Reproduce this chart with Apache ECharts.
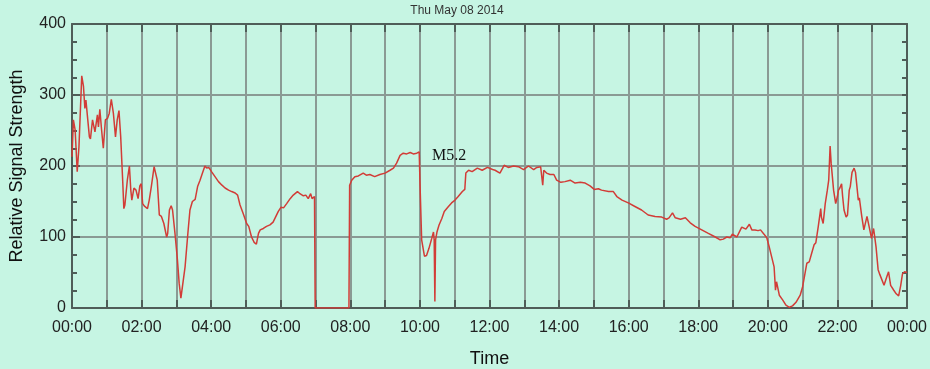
<!DOCTYPE html>
<html>
<head>
<meta charset="utf-8">
<script src="https://cdn.jsdelivr.net/npm/echarts@6/dist/echarts.min.js"></script>
<style>
html,body{margin:0;padding:0;background:#c6f5e3;}
#chart{width:930px;height:369px;}
</style>
</head>
<body>
<div id="chart"></div>
<script>
// Time of day in hours
var hours = [0.00,0.04,0.09,0.15,0.20,0.28,0.33,0.37,0.40,0.44,0.50,0.53,0.59,0.66,0.73,0.76,0.80,0.85,0.90,0.96,
1.02,1.07,1.13,1.19,1.25,1.30,1.35,1.40,1.46,1.49,1.52,1.59,1.65,1.69,1.72,1.78,1.84,1.90,1.95,1.99,
2.03,2.09,2.17,2.22,2.28,2.36,2.39,2.45,2.51,2.57,2.64,2.72,2.75,2.80,2.85,2.89,2.96,3.03,3.08,3.13,3.15,
3.25,3.33,3.39,3.46,3.54,3.61,3.68,3.75,3.82,3.87,3.93,4.01,4.11,4.21,4.31,4.40,4.50,4.59,4.69,4.76,4.83,4.92,
5.02,5.08,5.16,5.24,5.30,5.36,5.41,5.50,5.59,5.69,5.78,5.85,5.93,6.01,6.08,6.17,6.27,6.36,6.48,6.55,6.65,6.72,
6.79,6.86,6.90,6.97,6.99,7.96,7.98,8.04,8.13,8.23,8.37,8.46,8.56,8.70,8.85,9.00,9.14,9.24,9.33,9.43,9.52,9.62,
9.72,9.81,9.91,9.98,10.00,10.05,10.13,10.19,10.26,10.34,10.39,10.41,10.43,10.45,10.49,10.55,10.63,10.70,10.82,
10.91,11.01,11.10,11.22,11.29,11.32,11.40,11.50,11.65,11.79,11.94,12.09,12.16,12.30,12.42,12.54,12.69,12.83,
12.98,13.12,13.27,13.36,13.47,13.53,13.56,13.64,13.74,13.85,13.93,14.05,14.17,14.32,14.46,14.61,14.75,14.89,
15.01,15.13,15.22,15.42,15.56,15.66,15.81,15.99,16.18,16.37,16.56,16.76,16.95,17.09,17.16,17.26,17.34,17.49,
17.63,17.77,17.91,18.10,18.29,18.49,18.63,18.72,18.82,18.92,18.98,19.11,19.25,19.37,19.47,19.54,19.63,19.72,
19.79,19.89,19.97,20.04,20.11,20.18,20.22,20.25,20.33,20.43,20.52,20.62,20.71,20.81,20.93,21.00,21.07,21.12,
21.19,21.26,21.33,21.38,21.45,21.52,21.54,21.59,21.65,21.71,21.75,21.79,21.82,21.89,21.95,22.00,22.03,22.07,
22.12,22.15,22.19,22.25,22.29,22.34,22.37,22.42,22.48,22.52,22.60,22.63,22.70,22.76,22.79,22.85,22.91,22.98,
23.04,23.11,23.17,23.22,23.27,23.34,23.42,23.47,23.53,23.62,23.69,23.76,23.82,23.87,23.93,24.00];

// Relative signal strength
var strength = [213,265,251,192,227,327,312,281,293,272,241,238,265,248,272,255,280,251,225,265,
267,274,294,274,241,265,278,241,176,140,145,180,200,166,152,169,166,154,172,175,
147,143,140,152,171,199,197,180,131,129,119,100,105,138,144,138,105,68,35,14,16,
58,105,138,150,153,171,180,190,200,197,198,192,185,178,173,169,166,164,162,159,145,133,
119,115,100,92,90,105,110,112,115,117,121,128,136,142,141,147,154,159,164,161,158,159,
154,161,154,157,0,0,173,180,185,186,190,187,188,185,188,190,194,197,204,215,218,217,
219,217,218,220,180,96,73,74,84,98,107,96,9,96,107,117,126,136,143,
148,152,157,164,167,190,194,192,197,194,198,195,194,190,201,198,200,199,
195,200,195,198,199,173,194,190,188,188,180,177,178,180,176,177,176,172,
167,168,166,164,164,157,152,148,143,138,131,129,128,125,127,134,127,125,
127,120,115,110,105,100,96,97,100,99,104,100,114,111,118,110,110,109,
110,104,99,86,72,58,25,37,18,11,4,1,3,8,18,30,49,63,
65,77,89,92,115,140,128,119,147,166,180,228,204,166,147,157,166,169,
175,157,138,128,131,166,171,191,197,191,152,155,129,110,108,129,115,98,
112,86,54,47,47,32,44,51,32,25,20,17,32,48,51,50];

var hourTicks = [0,2,4,6,8,10,12,14,16,18,20,22,24];
var titleText = 'Thu May 08 2014';
var eventLabel = 'M5.2';
var eventPoint = [10.84, 214];

var data = hours.map(function(h, i){ return [h, strength[i]]; });

function fmtHour(v){
  if (hourTicks.indexOf(v) < 0) return '';
  var h = v % 24;
  return (h < 10 ? '0' : '') + h + ':00';
}

var axisDark = '#4f5d58';
var gridGray = '#8a9a94';
var labelFont = 'Liberation Sans';

var chart = echarts.init(document.getElementById('chart'), null, {renderer:'canvas'});
chart.setOption({
  animation: false,
  backgroundColor: '#c6f5e3',
  title: {
    text: titleText,
    left: 452, top: 0,
    textAlign: 'center',
    textStyle: {fontSize: 12, fontWeight: 'normal', color: '#333', fontFamily: labelFont}
  },
  grid: {left: 72, right: 23, top: 24, bottom: 61, containLabel: false, outerBoundsMode: 'none'},
  xAxis: [{
    type: 'value', min: 0, max: 24, interval: 1, position: 'bottom',
    name: 'Time', nameLocation: 'middle', nameGap: 42,
    nameTextStyle: {fontSize: 18, color: '#111', fontFamily: labelFont},
    axisLine: {show: true, onZero: false, lineStyle: {color: axisDark, width: 2}},
    axisTick: {show: true, inside: true, length: 8, lineStyle: {color: axisDark, width: 2}},
    axisLabel: {formatter: fmtHour, fontSize: 16, color: '#222', margin: 12, fontFamily: labelFont, showMaxLabel: true},
    splitLine: {show: true, lineStyle: {color: gridGray, width: 2}}
  },{
    type: 'value', min: 0, max: 24, interval: 1, position: 'top',
    axisLine: {show: true, onZero: false, lineStyle: {color: axisDark, width: 2}},
    axisTick: {show: true, inside: true, length: 8, lineStyle: {color: axisDark, width: 2}},
    axisLabel: {show: false},
    splitLine: {show: false}
  }],
  yAxis: [{
    type: 'value', min: 0, max: 400, interval: 100, position: 'left',
    name: 'Relative Signal Strength', nameLocation: 'middle', nameGap: 46,
    nameTextStyle: {fontSize: 18, color: '#111', fontFamily: labelFont},
    axisLine: {show: true, onZero: false, lineStyle: {color: axisDark, width: 2}},
    axisTick: {show: true, inside: true, length: 8, lineStyle: {color: axisDark, width: 2}},
    minorTick: {show: true, splitNumber: 4, length: 5, lineStyle: {color: axisDark, width: 2}},
    axisLabel: {fontSize: 16, color: '#222', margin: 6, fontFamily: labelFont},
    splitLine: {show: true, lineStyle: {color: gridGray, width: 2}}
  },{
    type: 'value', min: 0, max: 400, interval: 100, position: 'right',
    axisLine: {show: true, onZero: false, lineStyle: {color: axisDark, width: 2}},
    axisTick: {show: true, inside: true, length: 5, lineStyle: {color: axisDark, width: 2}},
    minorTick: {show: true, splitNumber: 4, length: 5, lineStyle: {color: axisDark, width: 2}},
    axisLabel: {show: false},
    splitLine: {show: false}
  }],
  series: [{
    type: 'line',
    xAxisIndex: 0, yAxisIndex: 0,
    data: data,
    showSymbol: false,
    lineStyle: {color: '#d23c37', width: 1.5},
    itemStyle: {color: '#d23c37'},
    markPoint: {
      symbol: 'circle', symbolSize: 1,
      itemStyle: {color: 'rgba(0,0,0,0)'},
      label: {show: true, position: 'inside', formatter: eventLabel, fontFamily: 'Liberation Serif', fontSize: 16, color: '#111'},
      data: [{coord: eventPoint, value: eventLabel}]
    }
  }]
});
</script>
</body>
</html>
